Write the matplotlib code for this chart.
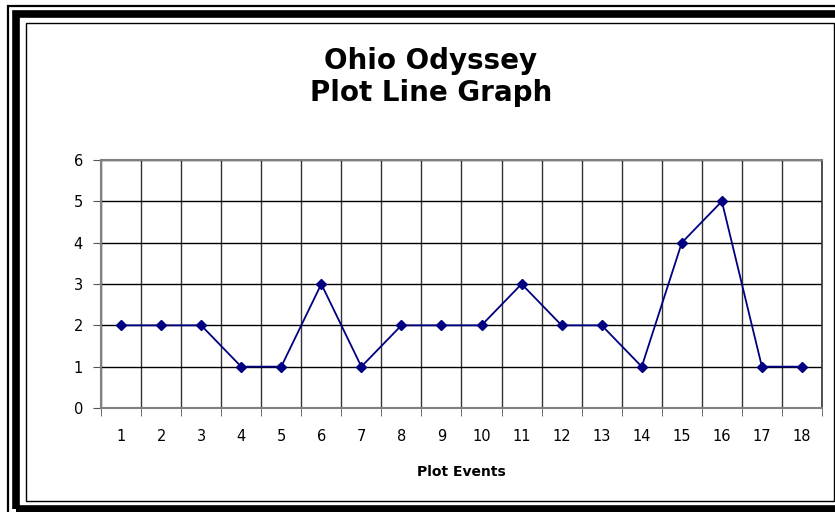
import matplotlib
matplotlib.use('Agg')
import matplotlib.pyplot as plt
import numpy as np
from matplotlib.patches import Rectangle

# DATA #
events = list(range(1, 19))
plotLevel = [2, 2, 2, 1, 1, 3, 1, 2, 2, 2, 3, 2, 2, 1, 4, 5, 1, 1]
titleText = "Ohio Odyssey\nPlot Line Graph"
xLabel = "Plot Events"

W, H = 835, 512

def box(fig, x0, y0, x1, y1, **kw):
    """Rectangle given in pixel coords, y measured from the top"""
    r = Rectangle((x0 / W, 1 - y1 / H), (x1 - x0) / W, (y1 - y0) / H,
                  transform=fig.transFigure, **kw)
    fig.add_artist(r)

fig = plt.figure(figsize=(W / 100, H / 100), dpi=100)
fig.patch.set_facecolor('white')

# frame: thin outer line, thick black band, inner thin border
box(fig, 8, 6, 850, 530, fill=False, edgecolor='black', linewidth=1.6)
box(fig, 16, 14, 842, 509, fill=False, edgecolor='black', linewidth=5.5)
box(fig, 26, 23, 834, 501, fill=False, edgecolor='black', linewidth=1.0)

# plot area
left, right, top, bottom = 101, 822, 160, 408
ax = fig.add_axes([left / W, 1 - bottom / H, (right - left) / W, (bottom - top) / H])
ax.plot(events, plotLevel, color='#000080', linewidth=1.3, marker='D',
        markersize=5.2, markerfacecolor='#000080', markeredgecolor='#000080')

ax.set_xlim(0.5, 18.5)
ax.set_ylim(0, 6)
ax.set_xticks(events)
ax.set_xticks(np.arange(0.5, 19, 1), minor=True)
ax.set_yticks(range(0, 7))
ax.tick_params(axis='x', which='major', length=0, pad=15, labelsize=10.5)
ax.tick_params(axis='x', which='minor', length=6, direction='out', color='#555555')
ax.tick_params(axis='y', which='major', length=6, direction='out', pad=7,
               labelsize=10.5, color='#555555')
ax.grid(True, axis='y', which='major', color='black', linewidth=1)
ax.grid(True, axis='x', which='minor', color='#333333', linewidth=1)
ax.set_axisbelow(True)

for side in ['left', 'bottom', 'top']:
    ax.spines[side].set_color('#808080')
    ax.spines[side].set_linewidth(1.5)
ax.spines['right'].set_color('#333333')
ax.spines['right'].set_linewidth(1.2)

fig.text(431 / W, 1 - 77 / H, titleText, ha='center', va='center',
         fontsize=20, fontweight='bold', linespacing=1.15)
fig.text((left + right) / 2 / W, 1 - 472 / H, xLabel, ha='center', va='center',
         fontsize=10, fontweight='bold')

fig.savefig('out.png', dpi=100)
